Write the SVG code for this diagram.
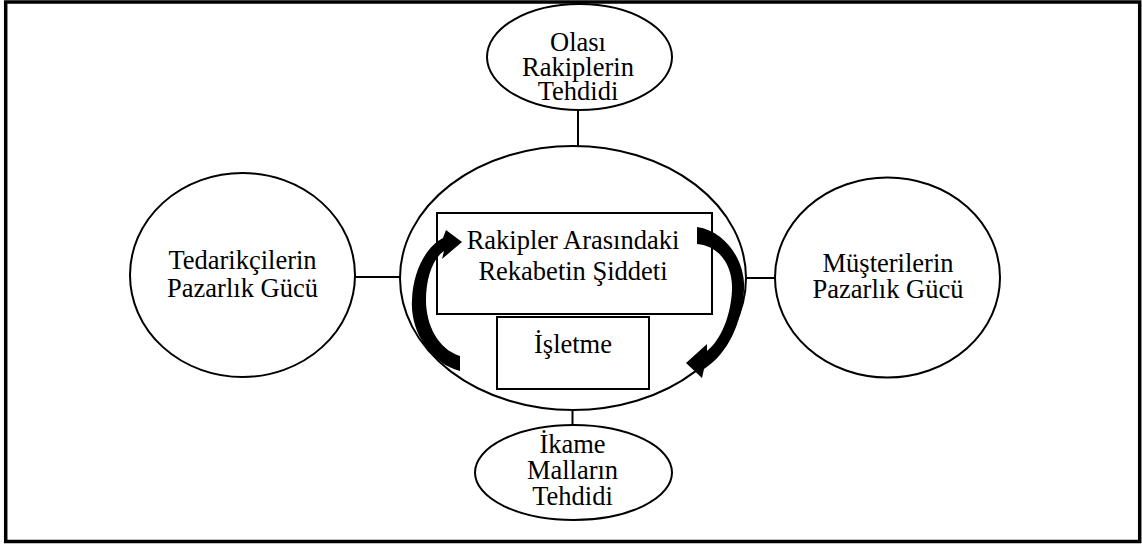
<svg xmlns="http://www.w3.org/2000/svg" width="1142" height="545" viewBox="0 0 1142 545">
  <style>
    .shape { fill: #fff; stroke: #000; stroke-width: 2; }
    .link { stroke: #000; stroke-width: 2; fill: none; }
    .arrow { fill: #000; stroke: none; }
    .lbl { font-family: "Liberation Serif", "Times New Roman", serif; font-size: 26.5px; fill: #000; text-anchor: middle; }
  </style>
  <rect width="1142" height="545" fill="#fff"/>
  <!-- outer frame -->
  <rect x="5.7" y="2" width="1134" height="539.5" fill="none" stroke="#000" stroke-width="3.5"/>

  <!-- connectors between the forces and the centre -->
  <g id="connectors">
    <line class="link" x1="578" y1="110" x2="578" y2="147"/>
    <line class="link" x1="572.5" y1="409" x2="572.5" y2="426"/>
    <line class="link" x1="355" y1="277" x2="401" y2="277"/>
    <line class="link" x1="745" y1="278" x2="776" y2="278"/>
  </g>

  <g id="olasi-rakipler">
    <ellipse class="shape" cx="579.5" cy="57" rx="92.5" ry="53"/>
    <text class="lbl" x="578" y="51">Olası</text>
    <text class="lbl" x="578" y="75.5">Rakiplerin</text>
    <text class="lbl" x="578" y="100">Tehdidi</text>
  </g>

  <g id="tedarikciler">
    <ellipse class="shape" cx="242.5" cy="275" rx="112.5" ry="102"/>
    <text class="lbl" x="242.5" y="269">Tedarikçilerin</text>
    <text class="lbl" x="242.5" y="297">Pazarlık Gücü</text>
  </g>

  <g id="musteriler">
    <ellipse class="shape" cx="887.5" cy="277.5" rx="112.5" ry="100"/>
    <text class="lbl" x="888" y="271.5">Müşterilerin</text>
    <text class="lbl" x="888" y="298">Pazarlık Gücü</text>
  </g>

  <g id="ikame-mallar">
    <ellipse class="shape" cx="573.5" cy="472.5" rx="98.5" ry="47.5"/>
    <text class="lbl" x="572.5" y="453">İkame</text>
    <text class="lbl" x="572.5" y="479">Malların</text>
    <text class="lbl" x="572.5" y="504.5">Tehdidi</text>
  </g>

  <g id="rekabet">
    <ellipse class="shape" cx="573" cy="278" rx="173" ry="132"/>
    <rect class="shape" x="437" y="213" width="275" height="101"/>
    <text class="lbl" x="573" y="249">Rakipler Arasındaki</text>
    <text class="lbl" x="573" y="280">Rekabetin Şiddeti</text>
  </g>

  <g id="isletme">
    <rect class="shape" x="497" y="317" width="152" height="72"/>
    <text class="lbl" x="573" y="353">İşletme</text>
  </g>

  <!-- curved cycle arrows around the rivalry box -->
  <g id="cycle-arrows">
    <path class="arrow" d="M 460 371 C 429 363, 410 330, 412 300 C 413 270, 427 246, 443 238 L 446 230 L 462 242 L 442 259 L 444 251 C 432 259, 426 280, 426 300 C 426 325, 438 349, 460 356 Z"/>
    <path class="arrow" d="M 697 227 C 726 231, 746 262, 744 290 C 742 321, 729 353, 704 369 L 702 378 L 686 363 L 707 344 L 707 351 C 721 340, 731 315, 732 290 C 733 266, 720 246, 697 244 Z"/>
  </g>
</svg>
